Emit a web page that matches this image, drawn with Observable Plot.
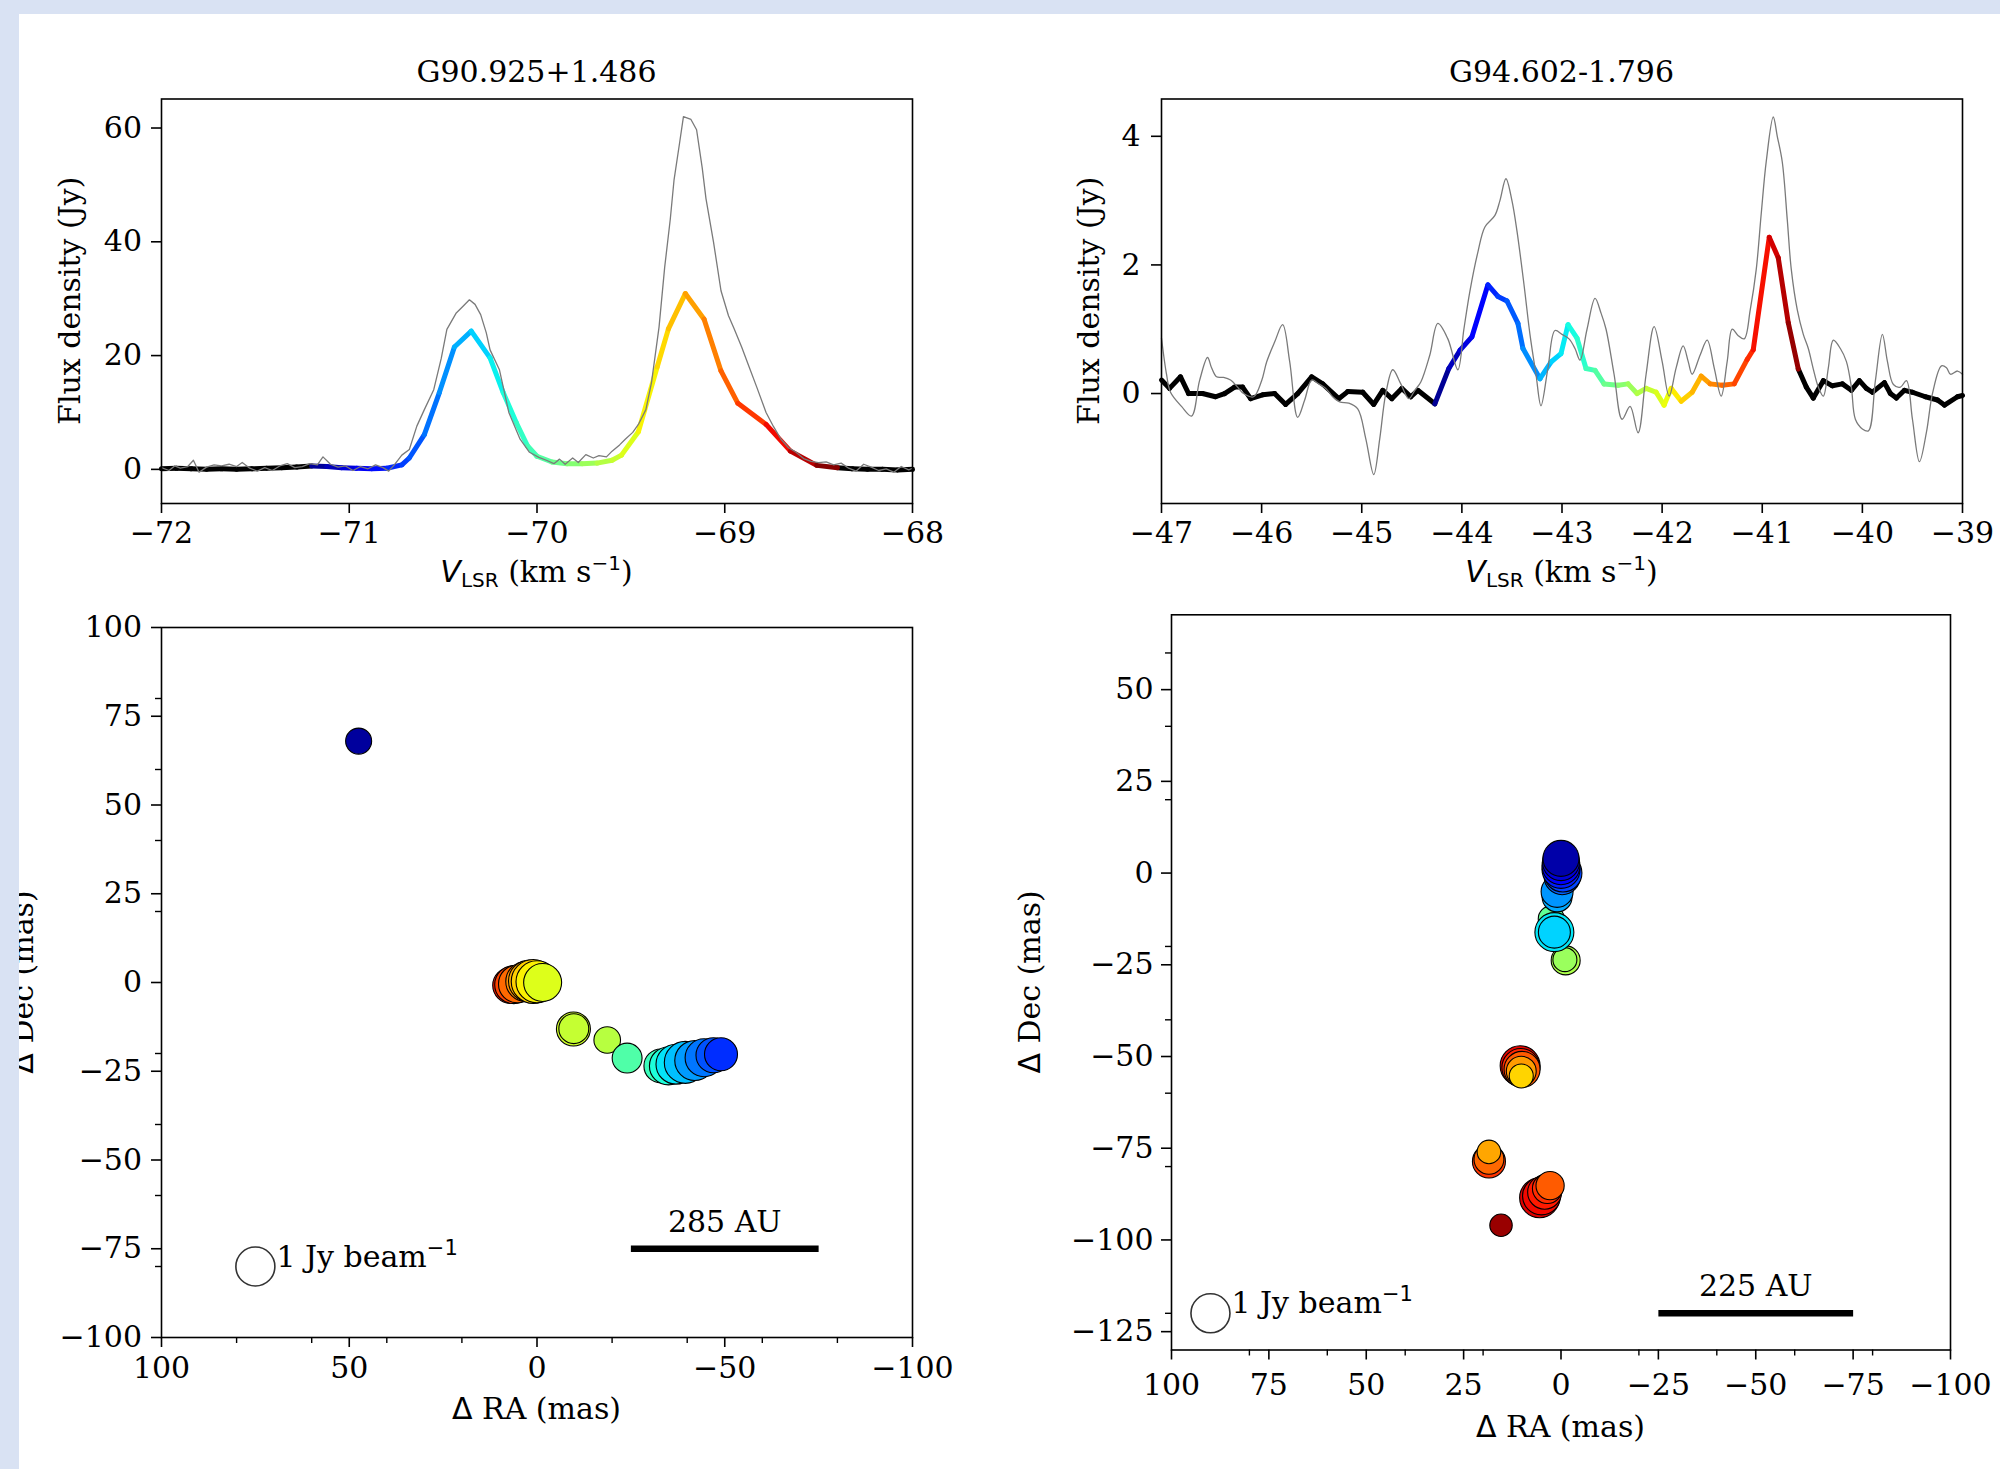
<!DOCTYPE html>
<html><head><meta charset="utf-8">
<script src="https://cdn.jsdelivr.net/npm/d3@7"></script>
<script src="https://cdn.jsdelivr.net/npm/@observablehq/plot@0.6"></script>
<style>
html,body{margin:0;padding:0;background:#fff;}
#fig{position:relative;width:2000px;height:1469px;overflow:hidden;background:#fff;}
.panel{position:absolute;width:1000px;}
.band{position:absolute;background:#d9e2f3;z-index:10;}
svg g[aria-label$="tick"]{stroke-width:1.6px;}
svg .tick line{stroke-width:1.6px;}
</style></head><body><div id="fig"></div>
<script>
// ---------------- DATA ----------------
const titles = ["G90.925+1.486", "G94.602-1.796"];

// G90.925+1.486 : VLBI-recovered spectrum [velocity km/s, flux Jy]
const g90Vlbi = [
 [-72.00,0.1],[-71.92,0.2],[-71.84,0.1],[-71.76,0.0],[-71.68,0.1],[-71.60,0.0],[-71.52,0.1],[-71.44,0.2],
 [-71.36,0.3],[-71.28,0.4],[-71.20,0.6],[-71.12,0.5],[-71.04,0.3],[-70.96,0.2],[-70.88,0.1],[-70.80,0.2],
 [-70.72,0.8],[-70.68,2.0],[-70.60,6.1],[-70.52,13.5],[-70.44,21.5],[-70.35,24.3],[-70.25,19.6],[-70.18,13.5],
 [-70.11,8.2],[-70.05,4.1],[-70.00,2.3],[-69.92,1.3],[-69.84,1.0],[-69.76,1.0],[-69.68,1.1],[-69.60,1.6],
 [-69.55,2.5],[-69.46,6.6],[-69.36,18.0],[-69.30,24.7],[-69.21,30.9],[-69.11,26.4],[-69.02,17.3],[-68.93,11.6],
 [-68.78,7.9],[-68.65,3.2],[-68.51,0.7],[-68.40,0.3],[-68.32,0.1],[-68.24,0.0],[-68.16,0.0],[-68.08,-0.1],[-68.00,0.0]
];
// G90.925+1.486 : single-dish spectrum
const g90Single = [
 [-72.00,0.3],[-71.96,-0.2],[-71.93,0.6],[-71.90,0.2],[-71.86,0.5],[-71.83,1.6],[-71.80,-0.5],[-71.76,0.4],
 [-71.72,0.8],[-71.68,0.6],[-71.64,0.9],[-71.60,0.5],[-71.57,1.2],[-71.53,0.2],[-71.49,-0.3],[-71.45,0.3],
 [-71.41,-0.2],[-71.37,0.6],[-71.33,1.0],[-71.29,0.3],[-71.25,0.5],[-71.21,1.0],[-71.17,0.8],[-71.14,2.2],
 [-71.10,0.9],[-71.06,0.4],[-71.02,0.6],[-70.98,-0.2],[-70.94,0.5],[-70.90,0.1],[-70.86,0.8],[-70.82,0.3],
 [-70.79,-0.3],[-70.76,0.8],[-70.72,2.5],[-70.68,3.5],[-70.64,7.6],[-70.60,10.5],[-70.55,14.0],[-70.51,19.5],
 [-70.48,24.6],[-70.43,27.5],[-70.39,28.8],[-70.36,29.8],[-70.33,29.0],[-70.30,27.2],[-70.27,24.0],[-70.25,21.0],
 [-70.20,17.5],[-70.15,10.0],[-70.09,5.3],[-70.04,3.0],[-69.99,2.1],[-69.95,1.6],[-69.91,1.0],[-69.88,1.8],
 [-69.85,0.9],[-69.81,2.0],[-69.78,1.2],[-69.74,2.6],[-69.70,2.0],[-69.67,2.4],[-69.63,2.2],[-69.60,3.2],
 [-69.56,4.3],[-69.53,5.3],[-69.49,6.5],[-69.46,7.9],[-69.42,10.5],[-69.39,15.3],[-69.35,25.0],[-69.32,35.5],
 [-69.29,44.0],[-69.27,50.9],[-69.24,57.5],[-69.22,62.0],[-69.18,61.5],[-69.15,59.7],[-69.12,53.0],[-69.10,47.6],
 [-69.06,40.0],[-69.02,31.4],[-68.98,27.0],[-68.95,24.7],[-68.91,21.5],[-68.87,18.0],[-68.83,14.5],[-68.78,10.0],
 [-68.74,7.5],[-68.70,5.3],[-68.66,3.8],[-68.62,3.0],[-68.58,1.9],[-68.54,1.4],[-68.50,1.2],[-68.46,1.3],
 [-68.42,0.8],[-68.38,1.1],[-68.34,0.2],[-68.30,-0.3],[-68.26,0.9],[-68.22,0.4],[-68.18,-0.2],[-68.14,0.1],
 [-68.10,-0.5],[-68.06,0.5],[-68.02,-0.1],[-68.00,0.2]
];
// G94.602-1.796 : VLBI-recovered spectrum
const g94Vlbi = [
 [-47.00,0.21],[-46.92,0.08],[-46.81,0.26],[-46.73,0.0],[-46.59,0.0],[-46.46,-0.05],[-46.37,0.0],[-46.27,0.1],
 [-46.19,0.1],[-46.11,-0.08],[-45.99,-0.02],[-45.87,0.0],[-45.76,-0.17],[-45.64,0.0],[-45.50,0.26],[-45.39,0.15],
 [-45.23,-0.08],[-45.14,0.03],[-44.99,0.02],[-44.88,-0.17],[-44.79,0.05],[-44.70,-0.08],[-44.60,0.08],[-44.51,-0.05],
 [-44.44,0.05],[-44.27,-0.16],[-44.13,0.39],[-44.02,0.67],[-43.90,0.88],[-43.74,1.69],[-43.64,1.51],[-43.55,1.44],
 [-43.44,1.09],[-43.39,0.70],[-43.22,0.23],[-43.11,0.49],[-43.01,0.62],[-42.94,1.07],[-42.85,0.86],[-42.76,0.39],
 [-42.67,0.36],[-42.58,0.15],[-42.44,0.13],[-42.34,0.15],[-42.25,0.0],[-42.16,0.08],[-42.06,0.02],[-41.98,-0.18],
 [-41.91,0.08],[-41.81,-0.12],[-41.70,0.02],[-41.61,0.27],[-41.52,0.15],[-41.40,0.13],[-41.28,0.15],[-41.15,0.53],
 [-41.09,0.68],[-40.93,2.43],[-40.84,2.11],[-40.74,1.10],[-40.64,0.38],[-40.56,0.10],[-40.49,-0.07],[-40.39,0.20],
 [-40.30,0.12],[-40.20,0.15],[-40.11,0.05],[-40.03,0.20],[-39.96,0.08],[-39.90,0.02],[-39.78,0.17],[-39.72,0.0],
 [-39.66,-0.07],[-39.58,0.05],[-39.50,0.02],[-39.37,-0.05],[-39.25,-0.10],[-39.18,-0.18],[-39.05,-0.05],[-39.00,-0.03]
];
// G94.602-1.796 : single-dish spectrum
const g94Single = [
 [-47.00,0.86],[-46.95,0.30],[-46.91,0.02],[-46.80,-0.20],[-46.70,-0.35],[-46.62,0.20],[-46.54,0.56],[-46.50,0.40],
 [-46.45,0.26],[-46.38,0.25],[-46.31,0.21],[-46.24,0.10],[-46.18,0.0],[-46.08,-0.05],[-46.00,0.20],[-45.95,0.49],
 [-45.87,0.80],[-45.79,1.07],[-45.72,0.50],[-45.64,-0.37],[-45.57,-0.10],[-45.50,0.21],[-45.43,0.15],[-45.36,0.08],
 [-45.29,-0.05],[-45.22,-0.13],[-45.13,-0.15],[-45.04,-0.24],[-44.96,-0.70],[-44.88,-1.26],[-44.82,-0.70],[-44.76,0.0],
 [-44.69,0.37],[-44.61,0.15],[-44.53,-0.08],[-44.47,0.05],[-44.41,0.18],[-44.32,0.60],[-44.24,1.09],[-44.14,0.85],
 [-44.04,0.37],[-43.98,1.00],[-43.92,1.59],[-43.84,2.20],[-43.77,2.59],[-43.67,2.77],[-43.62,3.00],[-43.56,3.34],
 [-43.50,3.00],[-43.45,2.53],[-43.38,1.70],[-43.32,0.92],[-43.26,0.30],[-43.21,-0.19],[-43.14,0.40],[-43.07,0.98],
 [-43.00,0.92],[-42.93,0.85],[-42.87,0.70],[-42.82,0.52],[-42.75,1.00],[-42.67,1.48],[-42.61,1.25],[-42.56,1.00],
 [-42.48,0.30],[-42.40,-0.40],[-42.32,-0.20],[-42.24,-0.61],[-42.16,0.30],[-42.08,1.04],[-42.00,0.50],[-41.93,-0.04],
 [-41.86,0.40],[-41.79,0.74],[-41.74,0.50],[-41.70,0.30],[-41.62,0.60],[-41.55,0.83],[-41.48,0.40],[-41.41,-0.04],
 [-41.35,0.50],[-41.30,1.00],[-41.24,0.90],[-41.18,0.85],[-41.12,1.30],[-41.06,1.93],[-41.01,2.80],[-40.96,3.61],
 [-40.89,4.30],[-40.85,4.00],[-40.80,3.60],[-40.75,2.70],[-40.71,1.93],[-40.65,1.30],[-40.59,0.92],[-40.54,0.70],
 [-40.49,0.38],[-40.44,0.10],[-40.39,-0.04],[-40.34,0.40],[-40.29,0.83],[-40.22,0.70],[-40.16,0.50],[-40.11,0.10],
 [-40.07,-0.40],[-40.00,-0.55],[-39.94,-0.58],[-39.87,0.20],[-39.80,0.92],[-39.75,0.50],[-39.69,0.14],[-39.62,0.10],
 [-39.56,0.20],[-39.50,-0.40],[-39.43,-1.06],[-39.36,-0.60],[-39.30,0.0],[-39.21,0.43],[-39.16,0.40],[-39.12,0.30],
 [-39.05,0.35],[-39.00,0.30]
];

// maser spots [velocity km/s, dRA mas, dDec mas, flux Jy/beam]
const g90Spots = [
 [-68.75,7.0,-0.8,5.9],[-68.89,6.2,-0.6,8.8],[-69.00,5.2,-0.4,8.8],[-69.10,3.0,0.3,13],
 [-69.20,2.0,0.4,20],[-69.30,1.0,0.3,30],[-69.40,0.0,0.2,20],[-69.50,-1.5,0.0,8.8],
 [-69.55,-9.7,-13.1,3.9],[-69.58,-9.8,-13.0,1.7],[-69.63,-18.7,-16.2,0.87],[-69.98,-24.0,-21.3,1.7],
 [-70.05,-33.0,-23.5,3.9],[-70.15,-35.0,-23.5,8.8],[-70.25,-37.0,-23.0,13],[-70.35,-39.5,-22.5,20],
 [-70.45,-42.0,-22.0,13],[-70.55,-44.5,-21.2,8.8],[-70.65,-47.0,-20.5,4.8],[-70.75,-49.0,-20.2,3.2],
 [-71.15,47.5,68.0,0.77]
];
const g94Spots = [
 [-40.70,15.4,-96.0,0.37],[-40.92,5.5,-88.5,13],[-40.98,5.0,-88.0,8.8],[-41.05,4.2,-87.0,3.9],
 [-40.95,10.5,-52.5,13],[-41.12,3.5,-86.0,1.7],[-41.15,18.5,-78.6,3.2],[-41.30,2.8,-85.2,1.2],
 [-41.10,10.3,-53.0,8.8],[-41.35,18.5,-78.0,1.7],[-41.30,10.0,-53.5,5.9],[-41.59,18.5,-76.0,0.47],
 [-41.55,10.2,-54.0,1.7],[-41.77,10.2,-55.3,0.51],[-42.23,-1.2,-23.8,1.41],[-42.31,-1.0,-23.6,0.51],
 [-42.56,2.5,-12.5,0.77],[-42.99,1.7,-16.1,10.8],[-43.06,1.7,-16.1,2.6],[-43.21,1.0,-6.5,1.7],
 [-43.28,1.0,-5.0,2.6],[-43.46,-0.3,-1.0,5.9],[-43.57,-0.5,0.0,8.8],[-43.71,0.0,1.0,8.8],
 [-43.85,0.0,2.0,8.8],[-44.00,0.0,3.0,7.3],[-44.14,0.0,4.0,5.9]
];

// velocity ranges coloured by the rainbow map
const g90VelRange = [-71.22, -68.44];
const g94VelRange = [-44.27, -40.62];

// axes
const g90SpecX = [-72,-71,-70,-69,-68];
const g90SpecY = [0,20,40,60];
const g94SpecX = [-47,-46,-45,-44,-43,-42,-41,-40,-39];
const g94SpecY = [0,2,4];
const g90MapX = [100,50,0,-50,-100];
const g90MapY = [100,75,50,25,0,-25,-50,-75,-100];
const g90MinorX = [80,60,40,20,-20,-40,-60,-80];
const g90MinorY = [80,60,40,20,-20,-40,-60,-80];
const g94MapX = [100,75,50,25,0,-25,-50,-75,-100];
const g94MapY = [50,25,0,-25,-50,-75,-100,-125];
const g94MinorX = [80,60,40,20,-20,-40,-60,-80];
const g94MinorY = [60,40,20,-20,-40,-60,-80,-120];

// annotations: beam/flux reference and linear scale bar
const beamText = "1 Jy beam", beamExp = "\u22121";
const g90Beam = [{ra: 75, dec: -80, label: beamText}];
const g94Beam = [{ra: 90, dec: -120, label: beamText}];
const g90Bar = [{ra1: -25, ra2: -75, dec: -75, label: "285 AU"}];
const g94Bar = [{ra1: -25, ra2: -75, dec: -120, label: "225 AU"}];

// ---------------- HELPERS ----------------
function lerpStops(stops, t) {
  for (let i = 1; i < stops.length; i++) {
    if (t <= stops[i][0]) {
      const [t0, v0] = stops[i - 1], [t1, v1] = stops[i];
      return v0 + (v1 - v0) * (t - t0) / (t1 - t0);
    }
  }
  return stops[stops.length - 1][1];
}
function jet(t) {
  const r = lerpStops([[0,0],[0.35,0],[0.66,1],[0.89,1],[1,0.5]], t);
  const g = lerpStops([[0,0],[0.125,0],[0.375,1],[0.64,1],[0.91,0],[1,0]], t);
  const b = lerpStops([[0,0.5],[0.11,1],[0.34,1],[0.65,0],[1,0]], t);
  return d3.rgb(r * 255, g * 255, b * 255).formatHex();
}
function jetScale([lo, hi]) {
  const ts = d3.range(0, 51).map(i => i / 50);
  return {type: "linear", domain: ts.map(t => lo + t * (hi - lo)), range: ts.map(jet), interpolate: "rgb", clamp: true};
}
const fmt = d3.format("d");
const FONT = "DejaVu Serif";
const baseStyle = {fontFamily: FONT, fontSize: "30px", color: "black", background: "transparent", overflow: "visible"};

function segments(pts, [lo, hi]) {
  const s = d3.pairs(pts).map(([a, b]) => ({v1: a[0], f1: a[1], v2: b[0], f2: b[1], vm: (a[0] + b[0]) / 2}));
  return {inside: s.filter(d => d.vm >= lo && d.vm <= hi), outside: s.filter(d => d.vm < lo || d.vm > hi)};
}

function addText(svg, {x, y, rotate = false, parts}) {
  const t = d3.select(svg).append("text")
    .attr("text-anchor", "middle").attr("fill", "black")
    .attr("font-family", FONT).attr("font-size", 30)
    .attr("transform", rotate ? `translate(${x},${y}) rotate(-90)` : `translate(${x},${y})`);
  for (const p of parts) {
    const s = t.append("tspan").text(p.text);
    if (p.family) s.attr("font-family", p.family);
    if (p.style) s.attr("font-style", p.style);
    if (p.size) s.attr("font-size", p.size);
    if (p.dy) s.attr("dy", p.dy);
  }
}
const vlsrParts = [
  {text: "V", family: "DejaVu Sans", style: "italic"},
  {text: "LSR", family: "DejaVu Sans", size: 20, dy: 5},
  {text: " (km s", dy: -5},
  {text: "\u22121", family: "DejaVu Sans", size: 20, dy: -12},
  {text: ")", dy: 12}
];

function place(svg, left, top) {
  const div = document.createElement("div");
  div.className = "panel";
  div.style.left = left + "px";
  div.style.top = top + "px";
  div.appendChild(svg);
  document.getElementById("fig").appendChild(div);
}

function spectrum({vlbi, single, range, xDomain, yDomain, xTicks, yTicks, mr, yPad, title, yLabelX, curve}) {
  const W = 1000, H = 600, ml = 161, mt = 98.5, mb = 97;
  const seg = segments(vlbi, range);
  const svg = Plot.plot({
    width: W, height: H, marginLeft: ml, marginRight: mr, marginTop: mt, marginBottom: mb,
    style: baseStyle,
    x: {domain: xDomain, ticks: xTicks, tickSize: 10, tickPadding: 8, tickFormat: fmt, label: null},
    y: {domain: yDomain, ticks: yTicks, tickSize: 10, tickPadding: yPad, tickFormat: fmt, label: null},
    color: jetScale(range),
    marks: [
      Plot.link(seg.outside, {x1: "v1", y1: "f1", x2: "v2", y2: "f2", stroke: "black", strokeWidth: 5, strokeLinecap: "round"}),
      Plot.link(seg.inside, {x1: "v1", y1: "f1", x2: "v2", y2: "f2", stroke: "vm", strokeWidth: 5, strokeLinecap: "round"}),
      Plot.line(single, {x: d => d[0], y: d => d[1], stroke: "#7a7a7a", strokeWidth: 1.3, curve}),
      Plot.frame({stroke: "black", strokeWidth: 1.6})
    ]
  });
  const cx = ml + (W - ml - mr) / 2;
  addText(svg, {x: cx, y: 82, parts: [{text: title}]});
  addText(svg, {x: cx, y: 582, parts: vlsrParts});
  addText(svg, {x: yLabelX, y: mt + (H - mt - mb) / 2, rotate: true, parts: [{text: "Flux density (Jy)"}]});
  return svg;
}

function spotMap({spots, range, yDomain, xTicks, yTicks, minorX, minorY, beam, bar, ml, mr, mt, mb, xPad, yPad, xLabelY, yLabelX}) {
  const W = 1000, H = 869;
  const fw = W - ml - mr, fh = H - mt - mb;
  const ordered = d3.sort(spots, d => -d[0]); // higher velocity drawn first
  const svg = Plot.plot({
    width: W, height: H, marginLeft: ml, marginRight: mr, marginTop: mt, marginBottom: mb,
    style: baseStyle,
    x: {domain: [100, -100], ticks: xTicks, tickSize: 10, tickPadding: xPad, tickFormat: fmt, label: null},
    y: {domain: yDomain, ticks: yTicks, tickSize: 10, tickPadding: yPad, tickFormat: fmt, label: null},
    color: jetScale(range),
    r: {type: "log", domain: [0.1, 30], range: [8, 22], clamp: true},
    marks: [
      Plot.ruleX(minorX, {insetTop: fh, insetBottom: -6, stroke: "black", strokeWidth: 1.4}),
      Plot.ruleY(minorY, {insetRight: fw, insetLeft: -6, stroke: "black", strokeWidth: 1.4}),
      Plot.dot(ordered, {x: d => d[1], y: d => d[2], r: d => d[3], fill: d => d[0], stroke: "black", strokeWidth: 1.1, sort: null}),
      Plot.dot(beam, {x: "ra", y: "dec", r: 19.5, fill: "none", stroke: "#333", strokeWidth: 1.6}),
      Plot.text(beam, {x: "ra", y: "dec", text: "label", dx: 21, textAnchor: "start", lineAnchor: "bottom", fontSize: 30, fill: "black"}),
      Plot.link(bar, {x1: "ra1", x2: "ra2", y1: "dec", y2: "dec", stroke: "black", strokeWidth: 6.5}),
      Plot.text(bar, {x: d => (d.ra1 + d.ra2) / 2, y: "dec", text: "label", dy: -17, lineAnchor: "bottom", fontSize: 30, fill: "black"}),
      Plot.frame({stroke: "black", strokeWidth: 1.6})
    ]
  });
  // superscript exponent for the beam label
  d3.select(svg).selectAll("text").filter(function () { return this.textContent === beamText; })
    .append("tspan").attr("font-family", "DejaVu Sans").attr("font-size", 21).attr("dy", -12).text(beamExp);
  const cx = ml + fw / 2;
  addText(svg, {x: cx, y: xLabelY, parts: [{text: "\u0394", family: "DejaVu Sans"}, {text: " RA (mas)"}]});
  addText(svg, {x: yLabelX, y: mt + fh / 2, rotate: true, parts: [{text: "\u0394", family: "DejaVu Sans"}, {text: " Dec (mas)"}]});
  return svg;
}

// ---------------- BUILD ----------------
place(spectrum({vlbi: g90Vlbi, single: g90Single, range: g90VelRange, xDomain: [-72, -68], yDomain: [-6.0, 65.1],
  xTicks: g90SpecX, yTicks: g90SpecY, mr: 88, yPad: 9.5, title: titles[0], yLabelX: 80, curve: "linear"}), 0, 0);
place(spectrum({vlbi: g94Vlbi, single: g94Single, range: g94VelRange, xDomain: [-47, -39], yDomain: [-1.71, 4.58],
  xTicks: g94SpecX, yTicks: g94SpecY, mr: 38, yPad: 11, title: titles[1], yLabelX: 99, curve: "catmull-rom"}), 1000, 0);
place(spotMap({spots: g90Spots, range: g90VelRange, yDomain: [-100, 100], xTicks: g90MapX, yTicks: g90MapY,
  minorX: g90MinorX, minorY: g90MinorY, beam: g90Beam, bar: g90Bar,
  ml: 161, mr: 88, mt: 27, mb: 132, xPad: 9.5, yPad: 9.5, xLabelY: 819, yLabelX: 33}), 0, 600);
place(spotMap({spots: g94Spots, range: g94VelRange, yDomain: [-130, 70.4], xTicks: g94MapX, yTicks: g94MapY,
  minorX: g94MinorX, minorY: g94MinorY, beam: g94Beam, bar: g94Bar,
  ml: 171, mr: 50, mt: 14.3, mb: 119.5, xPad: 14, yPad: 8, xLabelY: 837, yLabelX: 40}), 1000, 600);

// page frame bands
for (const [l, t, w, h] of [[0, 0, 2000, 14], [0, 0, 19, 1469]]) {
  const b = document.createElement("div");
  b.className = "band";
  Object.assign(b.style, {left: l + "px", top: t + "px", width: w + "px", height: h + "px"});
  document.getElementById("fig").appendChild(b);
}
</script></body></html>
